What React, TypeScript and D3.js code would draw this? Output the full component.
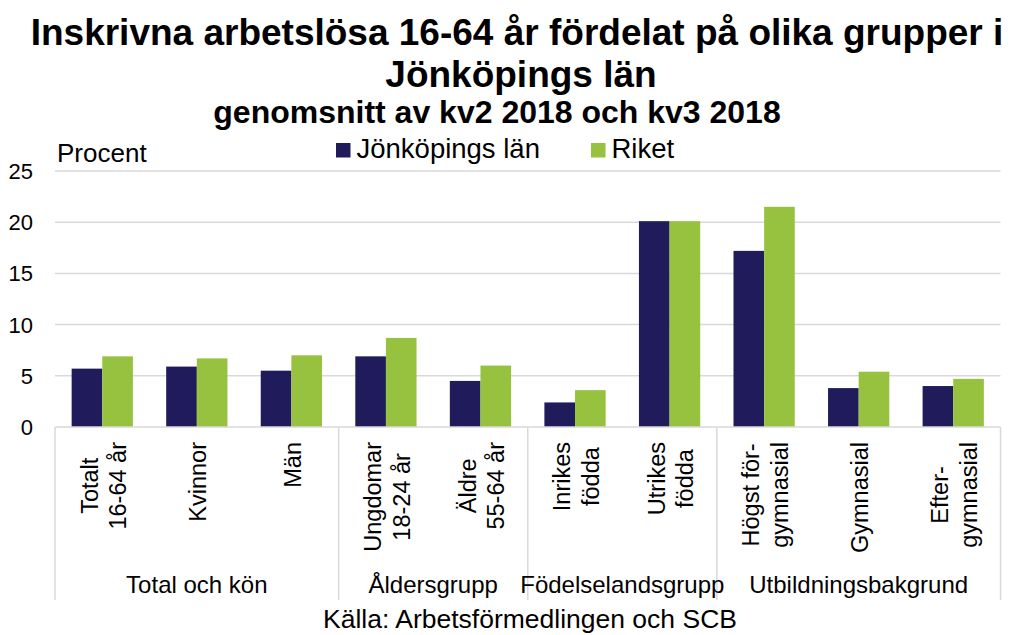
import React, { useEffect, useRef } from 'react';
import * as d3 from 'd3';

// Category labels (line breaks as in the original chart)
const categoryLines: string[][] = [
  ['Totalt', '16-64 år'],
  ['Kvinnor'],
  ['Män'],
  ['Ungdomar', '18-24 år'],
  ['Äldre', '55-64 år'],
  ['Inrikes', 'födda'],
  ['Utrikes', 'födda'],
  ['Högst för-', 'gymnasial'],
  ['Gymnasial'],
  ['Efter-', 'gymnasial'],
];
const categories = categoryLines.map(l => l.join(' '));

const seriesNames = ['Jönköpings län', 'Riket'];
const jonkoping = [5.7, 5.9, 5.5, 6.9, 4.5, 2.4, 20.1, 17.2, 3.8, 4.0];
const riket = [6.9, 6.7, 7.0, 8.7, 6.0, 3.6, 20.1, 21.5, 5.4, 4.7];

// Groups on the second level of the category axis
const groupNames = ['Total och kön', 'Åldersgrupp', 'Födelselandsgrupp', 'Utbildningsbakgrund'];
const groupSizes = [3, 2, 2, 3];

const yTicks = [0, 5, 10, 15, 20, 25];

const colors = ['#201c5b', '#97c23f'];
const font = '"Liberation Sans", Arial, sans-serif';

const App = () => {
  const svgRef = useRef<SVGSVGElement>(null);

  useEffect(() => {
    const width = 1010;
    const height = 635;
    const plot = { left: 55, right: 1000.5, top: 171, bottom: 427 };

    const svg = d3.select(svgRef.current);
    svg.selectAll('*').remove();
    svg.attr('width', width).attr('height', height);

    // Scales
    const x = d3.scaleBand()
      .domain(categories)
      .range([plot.left, plot.right])
      .paddingInner(0.352)
      .paddingOuter(0.176);

    const xInner = d3.scaleBand()
      .domain(seriesNames)
      .range([0, x.bandwidth()]);

    const y = d3.scaleLinear()
      .domain([0, 25])
      .range([plot.bottom, plot.top]);

    // Title
    const title = svg.append('g')
      .attr('font-family', font)
      .attr('font-weight', 'bold')
      .attr('text-anchor', 'middle')
      .attr('fill', '#000');
    title.append('text')
      .attr('x', 517).attr('y', 45)
      .attr('font-size', 37)
      .text('Inskrivna arbetslösa 16-64 år fördelat på olika grupper i');
    title.append('text')
      .attr('x', 521).attr('y', 87)
      .attr('font-size', 37)
      .text('Jönköpings län');
    title.append('text')
      .attr('x', 497).attr('y', 123)
      .attr('font-size', 32)
      .text('genomsnitt av kv2 2018 och kv3 2018');

    // Unit label
    svg.append('text')
      .attr('x', 57).attr('y', 162)
      .attr('font-family', font)
      .attr('font-size', 26)
      .text('Procent');

    // Legend
    const legendX = [336, 591];
    seriesNames.forEach((name, i) => {
      svg.append('rect')
        .attr('x', legendX[i]).attr('y', 143)
        .attr('width', 14.5).attr('height', 14.5)
        .attr('fill', colors[i]);
      svg.append('text')
        .attr('x', legendX[i] + 20.5).attr('y', 158)
        .attr('font-family', font)
        .attr('font-size', 27.5)
        .text(name);
    });

    // Gridlines
    svg.append('g')
      .selectAll('line')
      .data(yTicks.filter(t => t > 0))
      .enter()
      .append('line')
      .attr('x1', plot.left).attr('x2', plot.right)
      .attr('y1', d => y(d)).attr('y2', d => y(d))
      .attr('stroke', '#d9d9d9')
      .attr('stroke-width', 1.5);

    // Y tick labels
    svg.append('g')
      .selectAll('text')
      .data(yTicks)
      .enter()
      .append('text')
      .attr('x', 33)
      .attr('y', d => y(d))
      .attr('dy', '0.36em')
      .attr('text-anchor', 'end')
      .attr('font-family', font)
      .attr('font-size', 22)
      .text(d => d);

    // Bars
    const values = [jonkoping, riket];
    seriesNames.forEach((name, s) => {
      svg.append('g')
        .selectAll('rect')
        .data(values[s])
        .enter()
        .append('rect')
        .attr('x', (d, i) => (x(categories[i]) ?? 0) + (xInner(name) ?? 0))
        .attr('y', d => y(d))
        .attr('width', xInner.bandwidth())
        .attr('height', d => y(0) - y(d))
        .attr('fill', colors[s]);
    });

    // Category axis baseline
    svg.append('line')
      .attr('x1', plot.left).attr('x2', plot.right)
      .attr('y1', y(0)).attr('y2', y(0))
      .attr('stroke', '#d9d9d9')
      .attr('stroke-width', 1.5);

    // Group separators
    const step = x.step();
    const boundaries = [0];
    groupSizes.forEach(n => boundaries.push(boundaries[boundaries.length - 1] + n));
    svg.append('g')
      .selectAll('line')
      .data(boundaries)
      .enter()
      .append('line')
      .attr('x1', d => plot.left + d * step)
      .attr('x2', d => plot.left + d * step)
      .attr('y1', y(0)).attr('y2', 600)
      .attr('stroke', '#d9d9d9')
      .attr('stroke-width', 1.5);

    // Rotated category labels: lines centred on each other, block starting at y = 442
    const lineH = 28.5;
    const labelFont = 23.5;
    categoryLines.forEach((lines, i) => {
      const cx = (x(categories[i]) ?? 0) + x.bandwidth() / 2;
      const g = svg.append('g');
      const texts = lines.map((line, j) => {
        const baseX = cx + (j - (lines.length - 1) / 2) * lineH + 9.5;
        return g.append('text')
          .attr('font-family', font)
          .attr('font-size', labelFont)
          .attr('text-anchor', 'middle')
          .attr('data-x', baseX)
          .text(line);
      });
      const maxLen = d3.max(texts, t => (t.node() as SVGTextElement).getComputedTextLength()) ?? 0;
      const cy = 442 + maxLen / 2;
      texts.forEach(t => {
        const bx = +t.attr('data-x');
        t.attr('transform', `translate(${bx},${cy}) rotate(-90)`);
      });
    });

    // Group labels
    groupNames.forEach((name, k) => {
      const cx = plot.left + (boundaries[k] + groupSizes[k] / 2) * step;
      svg.append('text')
        .attr('x', cx).attr('y', 593)
        .attr('text-anchor', 'middle')
        .attr('font-family', font)
        .attr('font-size', 24)
        .text(name);
    });

    // Source
    svg.append('text')
      .attr('x', 530).attr('y', 628)
      .attr('text-anchor', 'middle')
      .attr('font-family', font)
      .attr('font-size', 26.5)
      .text('Källa: Arbetsförmedlingen och SCB');
  }, []);

  return (
    <svg
      ref={svgRef}
      style={{ position: 'absolute', left: 0, top: 0, background: '#fff' }}
    ></svg>
  );
};

export default App;
